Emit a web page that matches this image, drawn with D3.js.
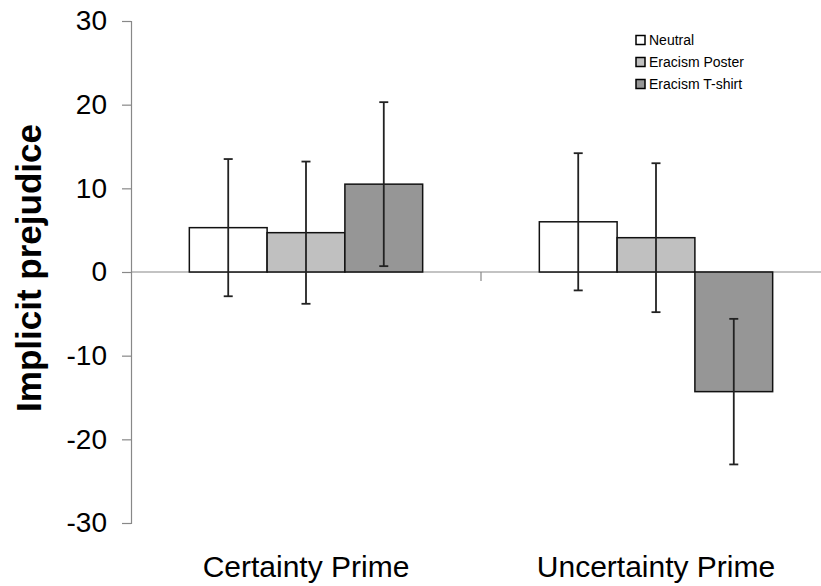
<!DOCTYPE html>
<html>
<head>
<meta charset="utf-8">
<script src="https://cdn.jsdelivr.net/npm/d3@7"></script>
<style>
  body { margin: 0; background: #fff; }
  text { font-family: "Liberation Sans", Arial, sans-serif; fill: #000; }
</style>
</head>
<body>
<div class="svg-container"></div>
<script>
var width = 821;
var height = 586;

// data
var categories = ["Certainty Prime", "Uncertainty Prime"];
var series = ["Neutral", "Eracism Poster", "Eracism T-shirt"];
var colors = ["#ffffff", "#c0c0c0", "#969696"];
var certaintyValues = [5.3, 4.7, 10.5];
var certaintyErrors = [8.2, 8.5, 9.8];
var uncertaintyValues = [6.0, 4.1, -14.3];
var uncertaintyErrors = [8.2, 8.9, 8.7];
var yTicks = [30, 20, 10, 0, -10, -20, -30];

var values = [certaintyValues, uncertaintyValues];
var errors = [certaintyErrors, uncertaintyErrors];

var rows = [];
categories.forEach(function(c, i) {
    series.forEach(function(s, j) {
        rows.push({ cat: c, series: s, value: values[i][j], err: errors[i][j], color: colors[j] });
    });
});

var svg = d3.select(".svg-container")
    .append("svg")
    .attr("width", width)
    .attr("height", height);

var scaleY = d3.scaleLinear()
    .domain([-30, 30])
    .range([523, 21]);

var scaleX = d3.scaleBand()
    .domain(categories)
    .range([131, 831]);

var scaleSeries = d3.scaleBand()
    .domain(series)
    .range([0, scaleX.bandwidth()])
    .paddingInner(0)
    .paddingOuter(0.75);

// zero line / category axis
svg.append("line")
    .attr("x1", 131)
    .attr("x2", width)
    .attr("y1", scaleY(0))
    .attr("y2", scaleY(0))
    .attr("stroke", "#888")
    .attr("stroke-width", 1.2);

// boundary tick between the categories
svg.append("line")
    .attr("x1", scaleX(categories[1]))
    .attr("x2", scaleX(categories[1]))
    .attr("y1", scaleY(0))
    .attr("y2", scaleY(0) + 9)
    .attr("stroke", "#888")
    .attr("stroke-width", 1.2);

// y axis (plain hyphen for negatives, like the original)
var yAxis = svg.append("g")
    .attr("transform", "translate(131,0)")
    .call(d3.axisLeft(scaleY)
        .tickValues(yTicks)
        .tickFormat(function(d) { return String(d); })
        .tickSize(9)
        .tickPadding(15));

yAxis.select(".domain").attr("stroke", "#888").attr("stroke-width", 1.2);
yAxis.selectAll(".tick line").attr("stroke", "#888").attr("stroke-width", 1.2);
yAxis.selectAll(".tick text")
    .attr("font-size", 28)
    .attr("font-family", "'Liberation Sans', Arial, sans-serif")
    .attr("fill", "#000");

// bars
svg.selectAll("rect.bar")
    .data(rows)
    .enter()
    .append("rect")
    .attr("class", "bar")
    .attr("x", function(d) { return scaleX(d.cat) + scaleSeries(d.series); })
    .attr("width", scaleSeries.bandwidth())
    .attr("y", function(d) { return scaleY(Math.max(0, d.value)); })
    .attr("height", function(d) { return Math.abs(scaleY(d.value) - scaleY(0)); })
    .attr("fill", function(d) { return d.color; })
    .attr("stroke", "#111")
    .attr("stroke-width", 1.5);

// error bars
var errG = svg.selectAll("g.err")
    .data(rows)
    .enter()
    .append("g")
    .attr("class", "err")
    .attr("transform", function(d) {
        return "translate(" + (scaleX(d.cat) + scaleSeries(d.series) + scaleSeries.bandwidth() / 2) + ",0)";
    });

errG.append("line")
    .attr("y1", function(d) { return scaleY(d.value + d.err); })
    .attr("y2", function(d) { return scaleY(d.value - d.err); })
    .attr("stroke", "#222")
    .attr("stroke-width", 1.8);

errG.selectAll("line.cap")
    .data(function(d) { return [d.value + d.err, d.value - d.err]; })
    .enter()
    .append("line")
    .attr("class", "cap")
    .attr("x1", -4.5)
    .attr("x2", 4.5)
    .attr("y1", function(v) { return scaleY(v); })
    .attr("y2", function(v) { return scaleY(v); })
    .attr("stroke", "#222")
    .attr("stroke-width", 1.8);

// category labels
svg.selectAll("text.cat")
    .data(categories)
    .enter()
    .append("text")
    .attr("class", "cat")
    .attr("x", function(d) { return scaleX(d) + scaleX.bandwidth() / 2; })
    .attr("y", 577)
    .attr("text-anchor", "middle")
    .attr("font-size", 30)
    .text(function(d) { return d; });

// y label
svg.append("text")
    .attr("transform", "translate(41,268) rotate(270)")
    .attr("text-anchor", "middle")
    .attr("font-size", 35)
    .attr("font-weight", "bold")
    .text("Implicit prejudice");

// legend
var legend = svg.selectAll("g.legend")
    .data(series)
    .enter()
    .append("g")
    .attr("class", "legend")
    .attr("transform", function(d, i) { return "translate(636," + (40 + i * 22) + ")"; });

legend.append("rect")
    .attr("x", 0)
    .attr("y", -4.5)
    .attr("width", 9)
    .attr("height", 9)
    .attr("fill", function(d, i) { return colors[i]; })
    .attr("stroke", "#000")
    .attr("stroke-width", 1.5);

legend.append("text")
    .attr("x", 13)
    .attr("y", 5)
    .attr("font-size", 14)
    .text(function(d) { return d; });
</script>
</body>
</html>
